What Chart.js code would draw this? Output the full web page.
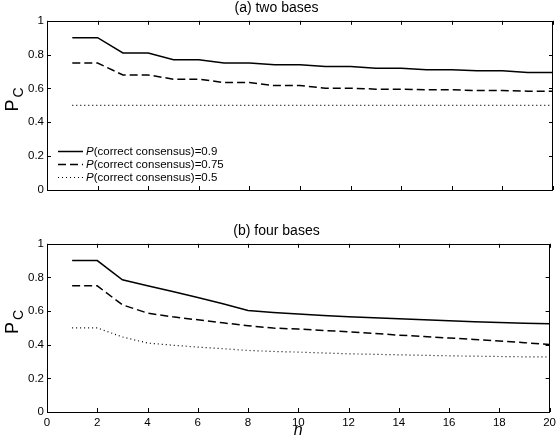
<!DOCTYPE html>
<html>
<head>
<meta charset="utf-8">
<script src="https://cdn.jsdelivr.net/npm/chart.js@4/dist/chart.umd.min.js"></script>
<style>
    body { margin: 0; background: #fff; }
    #wrap { position: relative; width: 560px; height: 445px; }
    canvas { position: absolute; left: 0; }
    #chart-two { top: 0; }
    #chart-four { top: 220px; }
</style>
</head>
<body>
<div id="wrap">
    <canvas id="chart-two" width="560" height="200"></canvas>
    <canvas id="chart-four" width="560" height="225"></canvas>
</div>
<script>
'use strict';

// данные
const nValues = [1, 2, 3, 4, 5, 6, 7, 8, 9, 10, 11, 12, 13, 14, 15, 16, 17, 18, 19, 20];
const xTicks = [0, 2, 4, 6, 8, 10, 12, 14, 16, 18, 20];
const yTicks = [0, 0.2, 0.4, 0.6, 0.8, 1];
const seriesNames = ['0.9', '0.75', '0.5'];

// (a) две базы
const twoBases09 = [0.90, 0.90, 0.81, 0.81, 0.77, 0.77, 0.75, 0.75, 0.74, 0.74,
    0.73, 0.73, 0.72, 0.72, 0.71, 0.71, 0.705, 0.705, 0.695, 0.695];
const twoBases075 = [0.75, 0.75, 0.68, 0.68, 0.655, 0.655, 0.635, 0.635, 0.617, 0.617,
    0.602, 0.602, 0.596, 0.596, 0.592, 0.592, 0.588, 0.588, 0.584, 0.584];
const twoBases05 = [0.5, 0.5, 0.5, 0.5, 0.5, 0.5, 0.5, 0.5, 0.5, 0.5,
    0.5, 0.5, 0.5, 0.5, 0.5, 0.5, 0.5, 0.5, 0.5, 0.5];

// (b) четыре базы
const fourBases09 = [0.90, 0.90, 0.786, 0.75, 0.716, 0.681, 0.643, 0.604, 0.592, 0.582,
    0.574, 0.566, 0.56, 0.554, 0.548, 0.542, 0.537, 0.532, 0.528, 0.525];
const fourBases075 = [0.75, 0.75, 0.637, 0.588, 0.566, 0.548, 0.53, 0.513, 0.499, 0.493,
    0.485, 0.477, 0.467, 0.457, 0.449, 0.44, 0.431, 0.422, 0.412, 0.402];
const fourBases05 = [0.5, 0.5, 0.446, 0.41, 0.397, 0.386, 0.376, 0.366, 0.36, 0.356,
    0.351, 0.346, 0.343, 0.34, 0.337, 0.334, 0.332, 0.33, 0.328, 0.327];

const FONT = '"Liberation Sans", Arial, Helvetica, sans-serif';
const lineStyles = [
    { borderDash: [], borderWidth: 1.5 },
    { borderDash: [8, 4], borderWidth: 1.5 },
    { borderDash: [1, 3], borderWidth: 1.2 },
];

function makeDatasets(values) {
    return values.map((vals, i) => ({
        label: 'P(correct consensus)=' + seriesNames[i],
        data: nValues.map((n, k) => ({ x: n, y: vals[k] })),
        borderColor: '#000',
        borderWidth: lineStyles[i].borderWidth,
        borderDash: lineStyles[i].borderDash,
        pointRadius: 0,
        tension: 0,
        fill: false,
    }));
}

// рамка и засечки внутрь по всем четырём сторонам
const frameTicks = {
    id: 'frameTicks',
    afterDraw(chart) {
        const { ctx, chartArea: a, scales } = chart;
        const len = 4;
        ctx.save();
        ctx.strokeStyle = '#000';
        ctx.lineWidth = 1;
        ctx.beginPath();
        for (const v of xTicks) {
            const x = Math.round(scales.x.getPixelForValue(v)) + 0.5;
            ctx.moveTo(x, a.top);
            ctx.lineTo(x, a.top + len);
            ctx.moveTo(x, a.bottom);
            ctx.lineTo(x, a.bottom - len);
        }
        for (const v of yTicks) {
            const y = Math.round(scales.y.getPixelForValue(v)) + 0.5;
            ctx.moveTo(a.left, y);
            ctx.lineTo(a.left + len, y);
            ctx.moveTo(a.right, y);
            ctx.lineTo(a.right - len, y);
        }
        ctx.stroke();
        ctx.strokeRect(Math.round(a.left) + 0.5, Math.round(a.top) + 0.5,
            Math.round(a.width) - 1, Math.round(a.height));
        ctx.restore();
    },
};

// подпись оси Y: P с индексом C
const yLabel = {
    id: 'yLabel',
    afterDraw(chart) {
        const { ctx, chartArea: a } = chart;
        ctx.save();
        ctx.translate(18, (a.top + a.bottom) / 2 - 2);
        ctx.rotate(-Math.PI / 2);
        ctx.fillStyle = '#000';
        ctx.textBaseline = 'alphabetic';
        ctx.textAlign = 'left';
        ctx.font = '18px ' + FONT;
        ctx.fillText('P', -8, 0);
        const w = ctx.measureText('P').width;
        ctx.font = '14px ' + FONT;
        ctx.fillText('C', -8 + w + 2, 5);
        ctx.restore();
    },
};

// легенда с курсивной P
const legendLines = {
    id: 'legendLines',
    afterDraw(chart, args, opts) {
        if (!opts.show) return;
        const { ctx } = chart;
        ctx.save();
        chart.data.datasets.forEach((ds, i) => {
            const y = 151 + i * 13 + 0.5;
            ctx.strokeStyle = '#000';
            ctx.lineWidth = ds.borderWidth;
            ctx.setLineDash(ds.borderDash);
            ctx.beginPath();
            ctx.moveTo(58, y);
            ctx.lineTo(83, y);
            ctx.stroke();
            ctx.setLineDash([]);
            ctx.fillStyle = '#000';
            ctx.textBaseline = 'middle';
            ctx.font = 'italic 11.5px ' + FONT;
            ctx.fillText('P', 86, y);
            const w = ctx.measureText('P').width;
            ctx.font = '11.5px ' + FONT;
            ctx.fillText(ds.label.slice(1), 86 + w, y);
        });
        ctx.restore();
    },
};

function makeOptions(title, showX, padTop, padBottom, showLegend) {
    return {
        responsive: false,
        animation: false,
        layout: { padding: { left: 0, right: 7, top: padTop, bottom: padBottom } },
        plugins: {
            legend: { display: false },
            tooltip: { enabled: false },
            title: {
                display: true,
                text: title,
                color: '#000',
                font: { family: FONT, size: 14, weight: 'normal' },
                padding: { top: 0, bottom: 4 },
            },
            legendLines: { show: showLegend },
        },
        scales: {
            x: {
                type: 'linear',
                min: 0,
                max: 20,
                grid: { display: false, drawTicks: false },
                border: { display: false },
                afterBuildTicks: (s) => { s.ticks = xTicks.map((v) => ({ value: v })); },
                afterFit: (s) => { s.height = showX ? 33 : 0; },
                ticks: {
                    display: showX,
                    color: '#000',
                    padding: 4,
                    maxRotation: 0,
                    font: { family: FONT, size: 11.5 },
                    callback: (v) => String(v),
                },
                title: {
                    display: showX,
                    text: 'n',
                    color: '#000',
                    padding: { top: 0, bottom: 5 },
                    font: { family: FONT, size: 16, style: 'italic' },
                },
            },
            y: {
                min: 0,
                max: 1,
                grid: { display: false, drawTicks: false },
                border: { display: false },
                afterBuildTicks: (s) => { s.ticks = yTicks.map((v) => ({ value: v })); },
                afterFit: (s) => { s.width = 47; },
                ticks: {
                    color: '#000',
                    padding: 3,
                    font: { family: FONT, size: 11.5 },
                    callback: (v) => String(v),
                },
            },
        },
    };
}

new Chart(document.getElementById('chart-two').getContext('2d'), {
    type: 'line',
    data: { datasets: makeDatasets([twoBases09, twoBases075, twoBases05]) },
    options: makeOptions('(a) two bases', false, 0, 10, true),
    plugins: [frameTicks, yLabel, legendLines],
});

new Chart(document.getElementById('chart-four').getContext('2d'), {
    type: 'line',
    data: { datasets: makeDatasets([fourBases09, fourBases075, fourBases05]) },
    options: makeOptions('(b) four bases', true, 3, 0, false),
    plugins: [frameTicks, yLabel, legendLines],
});
</script>
</body>
</html>
